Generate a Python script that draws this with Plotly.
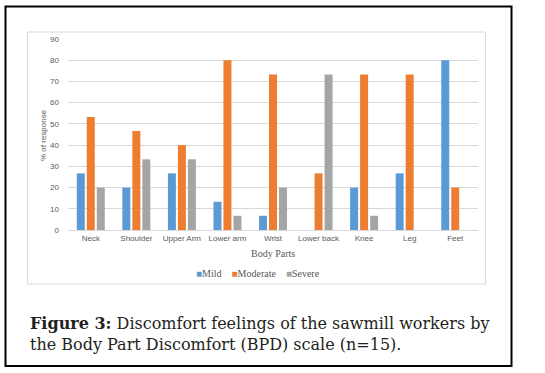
import plotly.graph_objects as go

categories = ["Neck", "Shoulder", "Upper Arm", "Lower arm", "Wrist", "Lower back", "Knee", "Leg", "Feet"]
mild = [26.7, 20, 26.7, 13.3, 6.7, 0, 20, 26.7, 80]
moderate = [53.3, 46.7, 40, 80, 73.3, 26.7, 73.3, 73.3, 20]
severe = [20, 33.3, 33.3, 6.7, 20, 73.3, 6.7, 0, 0]
series_names = ["Mild", "Moderate", "Severe"]
colors = ["#5B9BD5", "#ED7D31", "#A5A5A5"]
y_ticks = [0, 10, 20, 30, 40, 50, 60, 70, 80, 90]

W, H = 545, 373
L, R, T, B = 68, 67, 39, 143

fig = go.Figure()
for name, vals, c in zip(series_names, [mild, moderate, severe], colors):
    fig.add_trace(go.Bar(x=categories, y=vals, name=name, marker=dict(color=c, line=dict(width=0)),
                         showlegend=False))

pw, ph = W - L - R, H - T - B
def px(x):
    return (x - L) / pw
def py(y):
    return (H - B - y) / ph

shapes = [
    dict(type="rect", xref="paper", yref="paper", x0=px(5.5), x1=px(511.5), y0=py(366), y1=py(6.5),
         line=dict(color="black", width=2), layer="below"),
    dict(type="rect", xref="paper", yref="paper", x0=px(27.5), x1=px(485.5), y0=py(284), y1=py(32),
         line=dict(color="#D9D9D9", width=1), layer="below"),
]

sp = "\u2002\u2002"
legend_text = ("<span style='color:#5B9BD5'>■</span>Mild" + sp +
               "<span style='color:#ED7D31'>■</span>Moderate" + sp +
               "<span style='color:#A5A5A5'>■</span>Severe")

annotations = [
    dict(text="Body Parts", xref="paper", yref="paper", x=px(273), y=py(253), showarrow=False,
         font=dict(family="Liberation Serif", size=10, color="#595959"), xanchor="center", yanchor="middle"),
    dict(text=legend_text, xref="paper", yref="paper", x=px(258), y=py(273), showarrow=False,
         font=dict(family="Liberation Serif", size=10, color="#595959"), xanchor="center", yanchor="middle"),
    dict(text="% of response", xref="paper", yref="paper", x=px(43), y=py(135), showarrow=False, textangle=-90,
         font=dict(family="Liberation Sans", size=8, color="#595959"), xanchor="center", yanchor="middle"),
    dict(text="<b>Figure 3:</b> Discomfort feelings of the sawmill workers by<br>the Body Part Discomfort (BPD) scale (n=15).",
         xref="paper", yref="paper", x=px(28), y=py(334), showarrow=False, align="left",
         font=dict(family="DejaVu Serif", size=16, color="#231F20"), xanchor="left", yanchor="middle"),
]

fig.update_layout(
    width=W, height=H,
    margin=dict(l=L, r=R, t=T, b=B),
    paper_bgcolor="white", plot_bgcolor="white",
    barmode="group", bargap=0.342, bargroupgap=0.2,
    shapes=shapes, annotations=annotations,
    showlegend=False,
    xaxis=dict(showgrid=False, showline=True, linecolor="#D9D9D9", linewidth=1, ticks="",
               tickfont=dict(family="Liberation Sans", size=8, color="#595959")),
    yaxis=dict(range=[0, 90], tickvals=y_ticks, showgrid=True, gridcolor="#D9D9D9", gridwidth=1,
               zeroline=False, showline=False, ticks="", ticklen=0, ticklabelstandoff=8,
               tickfont=dict(family="Liberation Sans", size=8, color="#595959")),
)

fig.write_html("out.html", config={"displayModeBar": False},
               post_script="document.body.style.margin='0px';")
